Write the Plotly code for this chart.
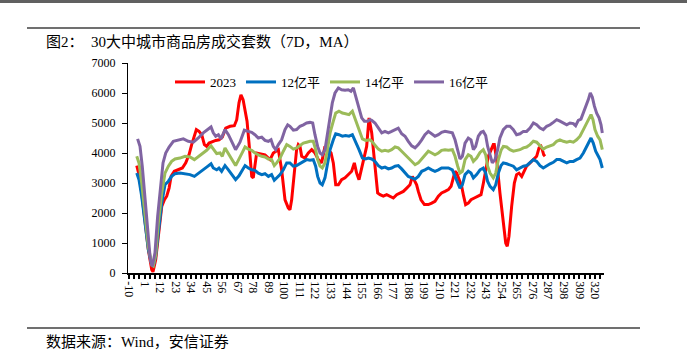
import plotly.graph_objects as go

# ---------------- data (day index, 7D MA units) ----------------
red_days = [-4.5, -2.9, -1.0, 1.4, 3.7, 6.1, 7.0, 8.9, 10.8, 13.2,
            15.1, 16.7, 18.4, 19.8, 22.1, 25.0, 27.8, 30.2, 32.5, 34.4,
            36.3, 37.7, 39.6, 41.5, 43.4, 45.0, 46.7, 49.1, 51.4, 53.8,
            56.1, 58.5, 61.6, 64.6, 66.3, 67.9, 69.3, 70.8, 72.2, 73.6,
            75.0, 76.9, 78.0, 80.4, 86.3, 89.9, 92.2, 95.8, 98.1, 100.5,
            102.8, 104.0, 105.2, 107.6, 108.7, 109.9, 111.1, 112.3, 114.6, 117.0,
            119.4, 121.7, 124.1, 126.4, 128.8, 131.2, 133.1, 134.7, 136.4, 138.3,
            140.6, 143.0, 145.3, 147.7, 149.6, 151.2, 152.9, 154.8, 156.7, 158.3,
            159.5, 160.0, 161.9, 164.2, 166.1, 167.8, 170.1, 172.5, 174.8, 177.2,
            179.6, 181.9, 184.3, 186.7, 189.0, 190.7, 192.1, 193.7, 194.9, 196.8,
            199.2, 202.0, 204.4, 206.7, 209.1, 211.4, 213.8, 216.2, 218.1, 219.7,
            220.9, 222.1, 223.7, 225.6, 227.0, 228.4, 230.3, 232.2, 234.6, 236.9,
            239.3, 241.0, 242.6, 244.5, 246.5, 248.0, 248.7, 250.4, 252.7, 255.1,
            256.8, 257.9, 259.1, 261.0, 262.9, 264.5, 266.2, 268.1, 270.0, 271.6,
            274.0, 276.4, 278.7, 280.4, 281.8, 282.7, 283.7, 284.6]
red_vals = [3580, 3280, 2670, 1780, 780, 110, 40, 440, 1330, 2220,
            2440, 2560, 2830, 3220, 3390, 3440, 3500, 3670, 3940, 4280,
            4560, 4780, 4720, 4610, 4280, 4220, 4330, 4390, 4420, 4440,
            4530, 4830, 4890, 4910, 5110, 5670, 5940, 5780, 5440, 5060,
            4330, 3220, 3170, 4000, 3940, 3780, 4000, 4110, 3440, 2440,
            2170, 2110, 2440, 3440, 4110, 4280, 4220, 3890, 3830, 4000,
            4110, 4000, 3780, 3670, 4220, 4110, 4000, 3670, 2940, 2940,
            3110, 3170, 3280, 3390, 3670, 3330, 3110, 3560, 3890, 4220,
            4890, 5170, 4670, 3560, 2670, 2610, 2560, 2610, 2560, 2500,
            2610, 2670, 2720, 2830, 2940, 3220, 3110, 2940, 2720, 2440,
            2280, 2280, 2330, 2390, 2560, 2670, 2720, 2780, 2890, 3170,
            3390, 3330, 3110, 2890, 2560, 2280, 2330, 2440, 2500, 2560,
            2610, 3000, 3440, 3890, 4110, 4280, 4280, 3780, 2670, 1670,
            1000, 890, 1220, 2220, 3000, 3280, 3330, 3220, 3390, 3560,
            3670, 3780, 3890, 4170, 4220, 4110, 3940, 3890]

blue_days = [-4.5, -2.9, -1.0, 1.4, 3.7, 6.1, 7.2, 8.9, 10.8, 13.2,
             15.5, 17.9, 20.2, 22.6, 26.1, 29.7, 33.2, 36.3, 39.1, 42.0,
             45.0, 48.1, 49.7, 52.1, 53.7, 55.6, 58.0, 60.4, 63.2, 65.5,
             67.9, 70.3, 72.2, 74.5, 76.9, 79.2, 81.6, 84.0, 86.3, 88.7,
             91.0, 92.9, 94.6, 97.0, 99.3, 101.7, 104.0, 106.4, 108.7, 111.1,
             113.5, 115.8, 118.2, 120.5, 122.2, 123.6, 125.3, 126.9, 128.8, 130.7,
             132.4, 134.7, 136.4, 138.7, 141.1, 143.4, 145.8, 148.2, 150.5, 152.9,
             155.3, 157.6, 159.5, 161.9, 164.2, 166.6, 169.0, 171.3, 173.7, 176.0,
             178.4, 180.7, 183.1, 185.5, 187.8, 190.2, 192.6, 194.9, 197.3, 199.6,
             202.0, 204.4, 206.7, 209.1, 211.4, 213.8, 216.2, 219.0, 220.9, 222.8,
             224.4, 226.1, 228.0, 230.3, 232.2, 233.9, 236.2, 238.6, 240.9, 242.6,
             244.0, 245.7, 248.0, 249.7, 251.6, 253.5, 255.1, 257.5, 259.8, 262.2,
             264.5, 266.9, 269.3, 271.6, 274.0, 276.4, 278.7, 281.1, 283.4, 285.8,
             288.2, 290.5, 292.9, 295.2, 297.6, 300.0, 302.3, 304.7, 307.0, 309.4,
             311.8, 314.1, 315.8, 317.2, 318.8, 320.5, 322.4, 323.6, 325.2]
blue_vals = [3330, 3110, 2560, 1670, 780, 280, 220, 560, 1440, 2330,
             2940, 3060, 3220, 3310, 3330, 3310, 3280, 3220, 3330, 3440,
             3530, 3640, 3500, 3440, 3500, 3390, 3580, 3440, 3280, 3110,
             3240, 3440, 3580, 3500, 3440, 3420, 3330, 3280, 3310, 3220,
             3280, 3090, 3170, 3280, 3440, 3670, 3670, 3560, 3580, 3640,
             3720, 3780, 3760, 3780, 3560, 3220, 3000, 2940, 3170, 3670,
             4110, 4440, 4640, 4610, 4560, 4580, 4560, 4610, 4390, 4110,
             3830, 3800, 3830, 3800, 3720, 3580, 3500, 3530, 3470, 3500,
             3560, 3580, 3470, 3330, 3220, 3170, 3130, 3220, 3390, 3440,
             3500, 3440, 3390, 3440, 3500, 3500, 3500, 3440, 3220, 3000,
             2830, 2940, 3280, 3390, 3330, 3170, 3280, 3440, 3500, 3330,
             3050, 2890, 2780, 2940, 3330, 3580, 3670, 3640, 3610, 3560,
             3440, 3500, 3560, 3580, 3670, 3780, 3720, 3580, 3500, 3580,
             3640, 3690, 3780, 3780, 3720, 3670, 3720, 3720, 3780, 3830,
             4000, 4200, 4330, 4500, 4330, 4060, 3890, 3780, 3500]

green_days = [-4.5, -2.9, -1.0, 1.4, 3.7, 6.1, 7.2, 8.9, 10.8, 13.2,
              15.5, 17.9, 20.2, 22.6, 26.1, 29.7, 33.2, 36.3, 39.1, 42.0,
              45.0, 48.1, 49.7, 52.1, 54.5, 56.1, 58.0, 60.4, 62.7, 65.5,
              67.9, 70.3, 72.2, 74.5, 76.9, 79.2, 81.6, 84.0, 86.3, 88.7,
              91.0, 92.9, 94.6, 97.0, 99.3, 101.7, 104.0, 106.4, 108.7, 111.1,
              113.5, 115.8, 118.2, 120.5, 122.2, 123.6, 125.3, 126.9, 128.8, 130.7,
              132.4, 134.7, 136.4, 138.7, 141.1, 143.4, 145.8, 148.2, 150.5, 152.9,
              155.3, 157.6, 160.7, 161.9, 164.2, 166.6, 169.0, 171.3, 173.7, 176.0,
              178.4, 180.7, 183.1, 185.5, 187.8, 190.2, 192.6, 194.9, 197.3, 199.6,
              202.0, 204.4, 206.7, 209.1, 211.4, 213.8, 216.2, 219.0, 220.9, 222.8,
              224.4, 226.1, 228.0, 230.3, 232.2, 233.9, 236.2, 238.6, 240.9, 242.6,
              244.0, 245.7, 248.0, 249.7, 251.6, 253.5, 255.1, 257.5, 259.8, 262.2,
              264.5, 266.9, 269.3, 271.6, 274.0, 276.4, 278.7, 281.1, 283.4, 285.8,
              288.2, 290.5, 292.9, 295.2, 297.6, 300.0, 302.3, 304.7, 307.0, 309.4,
              311.8, 314.1, 315.8, 317.2, 318.6, 320.0, 321.9, 323.6, 325.2]
green_vals = [3890, 3670, 3000, 2000, 890, 280, 240, 610, 1670, 2670,
              3330, 3560, 3720, 3800, 3830, 3890, 3870, 3780, 3870, 3980,
              4090, 4240, 4130, 3980, 4000, 3890, 4170, 4000, 3800, 3580,
              3780, 4020, 4200, 4130, 4090, 4000, 3940, 3890, 3870, 3800,
              3780, 3580, 3670, 3830, 4060, 4280, 4220, 4130, 4170, 4240,
              4330, 4360, 4390, 4390, 4110, 3780, 3560, 3500, 3670, 4170,
              4670, 5060, 5330, 5390, 5330, 5310, 5280, 5390, 5110, 4780,
              4470, 4420, 4440, 4390, 4280, 4130, 4060, 4090, 4060, 4110,
              4200, 4170, 4060, 3940, 3830, 3720, 3610, 3670, 3800, 3940,
              4060, 4000, 3940, 4000, 4090, 4110, 4090, 4110, 3890, 3560,
              3330, 3390, 3780, 3940, 3890, 3720, 3830, 4020, 4110, 3940,
              3560, 3330, 3170, 3330, 3780, 4090, 4220, 4200, 4110, 4060,
              4090, 4110, 4170, 4200, 4280, 4390, 4360, 4240, 4130, 4200,
              4240, 4280, 4390, 4440, 4390, 4360, 4390, 4360, 4440, 4560,
              4780, 5000, 5110, 5280, 5110, 4780, 4560, 4440, 4110]

purple_days = [-3.9, -2.2, -0.6, 1.4, 3.2, 5.1, 6.5, 8.4, 10.3, 12.2,
               14.1, 16.0, 18.4, 21.4, 25.0, 28.5, 32.0, 35.6, 39.1, 42.6,
               46.2, 48.1, 49.7, 51.4, 53.3, 55.2, 58.0, 60.4, 62.7, 65.5,
               68.6, 71.7, 74.5, 76.9, 79.2, 81.6, 84.0, 86.3, 88.7, 90.6,
               92.2, 93.9, 95.8, 98.1, 100.5, 102.4, 104.0, 106.4, 108.7, 111.1,
               113.5, 115.8, 118.2, 120.1, 121.7, 123.6, 125.3, 126.9, 128.8, 130.7,
               132.4, 134.0, 135.9, 138.3, 140.6, 143.0, 145.3, 147.2, 148.9, 150.5,
               152.4, 154.8, 156.7, 159.0, 160.7, 161.9, 164.2, 166.6, 169.0, 171.3,
               173.7, 176.0, 178.4, 180.7, 183.1, 185.5, 187.8, 190.2, 192.6, 194.9,
               197.3, 199.6, 202.0, 204.4, 206.7, 209.1, 211.4, 213.8, 216.2, 219.0,
               220.9, 222.8, 224.4, 226.1, 228.0, 230.3, 232.2, 233.9, 235.5, 237.4,
               239.3, 240.9, 242.6, 244.0, 245.7, 247.3, 249.2, 251.1, 252.7, 255.1,
               257.5, 259.8, 262.2, 264.5, 266.9, 269.3, 271.6, 274.0, 276.4, 278.7,
               281.1, 283.4, 285.8, 288.2, 290.5, 292.9, 295.2, 297.6, 300.0, 302.3,
               304.7, 306.3, 308.2, 310.1, 311.8, 313.4, 315.3, 316.7, 318.1, 319.6,
               321.2, 322.9, 324.3, 325.2]
purple_vals = [4470, 4220, 3560, 2440, 1220, 440, 220, 670, 1890, 2890,
               3670, 4000, 4200, 4390, 4420, 4470, 4390, 4360, 4500, 4670,
               4800, 4870, 4670, 4560, 4610, 4470, 4780, 4610, 4390, 4110,
               4360, 4760, 4720, 4690, 4610, 4500, 4530, 4420, 4390, 4440,
               4220, 4110, 4280, 4440, 4780, 4940, 4890, 4760, 4780, 4890,
               4940, 5000, 5020, 5000, 4610, 4220, 4000, 3940, 4110, 4670,
               5220, 5670, 6000, 6170, 6110, 6090, 6110, 6060, 6170, 5890,
               5560, 5170, 5060, 5060, 5110, 5090, 5000, 4830, 4670, 4720,
               4670, 4720, 4780, 4830, 4640, 4560, 4390, 4240, 4170, 4280,
               4440, 4610, 4720, 4640, 4560, 4610, 4690, 4720, 4690, 4670,
               4440, 4110, 3800, 3890, 4330, 4500, 4440, 4110, 4220, 4560,
               4690, 4720, 4580, 4220, 3890, 3670, 3780, 4110, 4500, 4780,
               4890, 4890, 4780, 4610, 4640, 4720, 4720, 4830, 5000, 4940,
               4830, 4780, 4890, 4940, 5020, 5110, 5060, 5000, 4940, 5000,
               4980, 4910, 5090, 5130, 5330, 5560, 5780, 6000, 5870, 5560,
               5330, 5170, 4940, 4670]

series_names = ["2023", "12亿平", "14亿平", "16亿平"]
series_colors = ["#FF0000", "#0070C0", "#9BBB59", "#8064A2"]
x_tick_vals = list(range(-10, 321, 11))
y_tick_vals = list(range(0, 7001, 1000))

title_text = "图2：  30大中城市商品房成交套数（7D，MA）"
source_text = "数据来源：Wind，安信证券"

# ---------------- figure ----------------
W, H = 687, 359
L, R, T, B = 128, 83, 63, 86
pw, ph = W - L - R, H - T - B

def px(x):
    return (x - L) / pw

def py(y):
    return (H - B - y) / ph

fig = go.Figure()
for d, v, n, c in zip([red_days, blue_days, green_days, purple_days],
                      [red_vals, blue_vals, green_vals, purple_vals],
                      series_names, series_colors):
    fig.add_trace(go.Scatter(x=d, y=v, name=n, mode="lines",
                             line=dict(color=c, width=3)))

serif = "Liberation Serif, Noto Sans CJK SC"

fig.update_layout(
    width=W, height=H,
    margin=dict(l=L, r=R, t=T, b=B),
    paper_bgcolor="white", plot_bgcolor="white",
    font=dict(family=serif, size=12, color="black"),
    showlegend=True,
    legend=dict(orientation="h", x=px(170), y=py(67), xanchor="left", yanchor="top",
                bgcolor="rgba(0,0,0,0)", font=dict(family=serif, size=13),
                itemwidth=30, tracegroupgap=0),
    xaxis=dict(range=[-10.7, 326.4], tickmode="array", tickvals=x_tick_vals,
               ticktext=[str(t) for t in x_tick_vals], tickangle=90,
               showline=True, linecolor="black", linewidth=1.5,
               ticks="outside", ticklen=4, tickwidth=1.5, tickcolor="black",
               minor=dict(dtick=11/3, tick0=-10, ticks="outside", ticklen=4, tickwidth=1.5, tickcolor="black"),
               showgrid=False, zeroline=False,
               tickfont=dict(family="Liberation Serif", size=12)),
    yaxis=dict(range=[0, 7000], tickvals=y_tick_vals, showline=True, linecolor="black",
               linewidth=1, ticks="outside", ticklen=5, tickcolor="black",
               showgrid=False, zeroline=False, ticklabelstandoff=4,
               tickfont=dict(family="Liberation Serif", size=12)),
)

fig.add_annotation(text=title_text, xref="paper", yref="paper", x=px(44), y=py(42),
                   xanchor="left", yanchor="middle", showarrow=False,
                   font=dict(family=serif, size=15, color="black"))
fig.add_annotation(text=source_text, xref="paper", yref="paper", x=px(44), y=py(342),
                   xanchor="left", yanchor="middle", showarrow=False,
                   font=dict(family=serif, size=15, color="black"))

line_style = dict(color="#404040", width=1.5)
fig.add_shape(type="line", xref="paper", yref="paper", x0=px(0), x1=px(W), y0=py(1.5), y1=py(1.5),
              line=dict(color="#606060", width=3))
fig.add_shape(type="line", xref="paper", yref="paper", x0=px(27), x1=px(640), y0=py(28), y1=py(28),
              line=line_style)
fig.add_shape(type="line", xref="paper", yref="paper", x0=px(27), x1=px(640), y0=py(328), y1=py(328),
              line=line_style)

fig.write_html("out.html", config={"displayModeBar": False},
               post_script="document.body.style.margin='0px';document.body.style.overflow='hidden';")
